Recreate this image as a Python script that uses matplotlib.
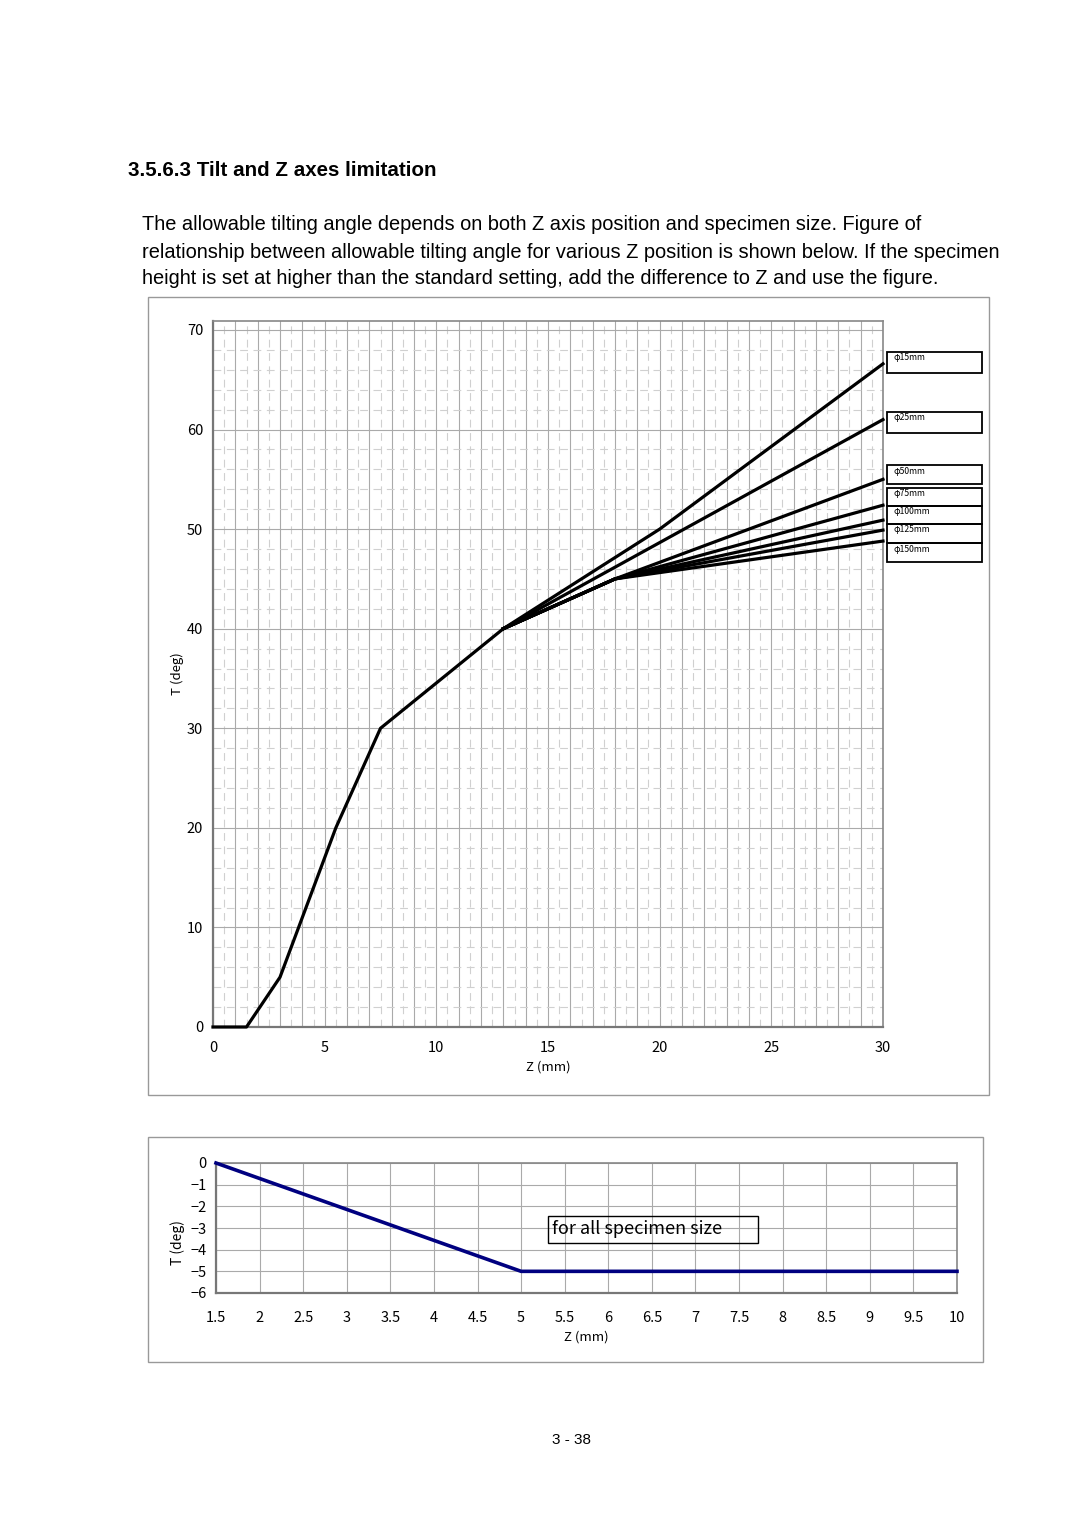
import matplotlib.pyplot as plt
from matplotlib.patches import Rectangle
from matplotlib.ticker import MultipleLocator

W, H = 1080, 1528
CJK = ["Noto Sans CJK JP", "DejaVu Sans"]
SANS = ["Liberation Sans", "DejaVu Sans"]

# common part of the tilt limit curve (all sizes)
z_common = [0, 1.5, 3, 5.5, 7.5, 13]
t_common = [0, 0, 5, 20, 30, 40]

# branches for each specimen size
sizes = ["φ15mm", "φ25mm", "φ50mm", "φ75mm", "φ100mm", "φ125mm", "φ150mm"]
z_branch = [
    [13, 20, 30],
    [13, 30],
    [13, 18, 30],
    [13, 18, 30],
    [13, 18, 30],
    [13, 18, 30],
    [13, 18, 30],
]
t_branch = [
    [40, 50, 66.6],
    [40, 61.0],
    [40, 45, 55.0],
    [40, 45, 52.4],
    [40, 45, 50.9],
    [40, 45, 49.9],
    [40, 45, 48.8],
]

# lower chart: negative tilt limit
z_neg = [1.5, 5, 10]
t_neg = [0, -5, -5]

x_ticks_top = [0, 5, 10, 15, 20, 25, 30]
y_ticks_top = [0, 10, 20, 30, 40, 50, 60, 70]
x_ticks_bot = [1.5, 2, 2.5, 3, 3.5, 4, 4.5, 5, 5.5, 6, 6.5, 7, 7.5, 8, 8.5, 9, 9.5, 10]
y_ticks_bot = [0, -1, -2, -3, -4, -5, -6]


def fx(px):
    return px / W


def fy(py):
    return 1 - py / H


def frame(fig, x0, y0, x1, y1, color="#999999", lw=1.0):
    fig.patches.append(Rectangle((fx(x0), fy(y1)), fx(x1) - fx(x0), fy(y0) - fy(y1),
                                 transform=fig.transFigure, fill=False,
                                 edgecolor=color, linewidth=lw))


def style_spines(a):
    for s in ["left", "bottom"]:
        a.spines[s].set_color("#777777")
        a.spines[s].set_linewidth(1.6)
    for s in ["top", "right"]:
        a.spines[s].set_color("#888888")
        a.spines[s].set_linewidth(1.2)


fig = plt.figure(figsize=(W / 100, H / 100), dpi=100)
fig.patch.set_facecolor("white")

# heading and paragraph
fig.text(fx(128), fy(171), "3.5.6.3 Tilt and Z axes limitation", family=SANS,
         fontsize=14.8, fontweight="bold", va="center", ha="left")
para = [
    "The allowable tilting angle depends on both Z axis position and specimen size. Figure of",
    "relationship between allowable tilting angle for various Z position is shown below. If the specimen",
    "height is set at higher than the standard setting, add the difference to Z and use the figure.",
]
for i, line in enumerate(para):
    fig.text(fx(142), fy(225 + 27 * i), line, family=SANS, fontsize=14.4,
             va="center", ha="left")

# ---- top chart ----
frame(fig, 148, 297, 989, 1095)
ax = fig.add_axes([fx(213), fy(1027), fx(883) - fx(213), fy(321) - fy(1027)])
ax.set_xlim(0, 30)
ax.set_ylim(0, 70.9)
ax.set_xticks(x_ticks_top)
ax.set_xticks([v / 2 for v in range(61) if v % 2 == 1], minor=True)
ax.set_yticks(y_ticks_top)
ax.yaxis.set_minor_locator(MultipleLocator(2))
ax.grid(True, which="minor", color="#d0d0d0", linestyle=(0, (7, 5)), linewidth=0.8)
ax.grid(True, axis="y", which="major", color="#aaaaaa", linewidth=0.8)
for v in range(31):
    ax.axvline(v, color="#aaaaaa", linewidth=0.8, zorder=0.5)
ax.tick_params(which="both", length=0, labelsize=10.5)
ax.tick_params(axis="x", pad=10)
ax.tick_params(axis="y", pad=7)
for lab in ax.get_xticklabels() + ax.get_yticklabels():
    lab.set_family(CJK)
style_spines(ax)
ax.set_axisbelow(True)

ax.plot(z_common, t_common, color="black", linewidth=2.3, clip_on=False, zorder=3)
for zb, tb in zip(z_branch, t_branch):
    ax.plot(zb, tb, color="black", linewidth=2.3, clip_on=False, zorder=3)

ax.set_xlabel("Z (mm)", family=CJK, fontsize=9.5)
ax.xaxis.set_label_coords(0.5, -0.047)
ax.set_ylabel("T (deg)", family=CJK, fontsize=9.5)
ax.yaxis.set_label_coords(-0.043, 0.5)

# size labels at the line ends
boxes = [(352, 373), (412, 433), (465, 484), (488, 506), (506, 524), (524, 543), (543, 562)]
for name, (b0, b1) in zip(sizes, boxes):
    frame(fig, 887, b0, 982, b1, color="black", lw=1.3)
    fig.text(fx(894), fy(b0 + 1.5), name, family=CJK, fontsize=6.2, va="top", ha="left")

# ---- bottom chart ----
frame(fig, 148, 1137, 983, 1362)
ax2 = fig.add_axes([fx(216), fy(1293), fx(957) - fx(216), fy(1163) - fy(1293)])
ax2.set_xlim(1.5, 10)
ax2.set_ylim(-6, 0)
ax2.set_xticks(x_ticks_bot)
ax2.set_xticklabels([("%g" % v) for v in x_ticks_bot])
ax2.set_yticks(y_ticks_bot)
ax2.set_yticklabels([("%d" % v).replace("-", "\u2212") for v in y_ticks_bot])
ax2.grid(True, color="#aaaaaa", linewidth=0.8)
ax2.set_axisbelow(True)
ax2.tick_params(length=0, labelsize=10.5)
ax2.tick_params(axis="x", pad=13)
ax2.tick_params(axis="y", pad=7)
for lab in ax2.get_xticklabels() + ax2.get_yticklabels():
    lab.set_family(CJK)
style_spines(ax2)
ax2.plot(z_neg, t_neg, color="#000080", linewidth=2.6, clip_on=False, zorder=3)
ax2.set_xlabel("Z (mm)", family=CJK, fontsize=9.5)
ax2.xaxis.set_label_coords(0.5, -0.29)
ax2.set_ylabel("T (deg)", family=CJK, fontsize=10)
ax2.yaxis.set_label_coords(-0.042, 0.39)

frame(fig, 548, 1216, 758, 1243, color="black", lw=1.0)
fig.text(fx(552), fy(1229.5), "for all specimen size", family=CJK, fontsize=13,
         va="center", ha="left")

fig.text(fx(572), fy(1440), "3 - 38", family=SANS, fontsize=11, ha="center", va="center")

fig.savefig("out.png", dpi=100)
